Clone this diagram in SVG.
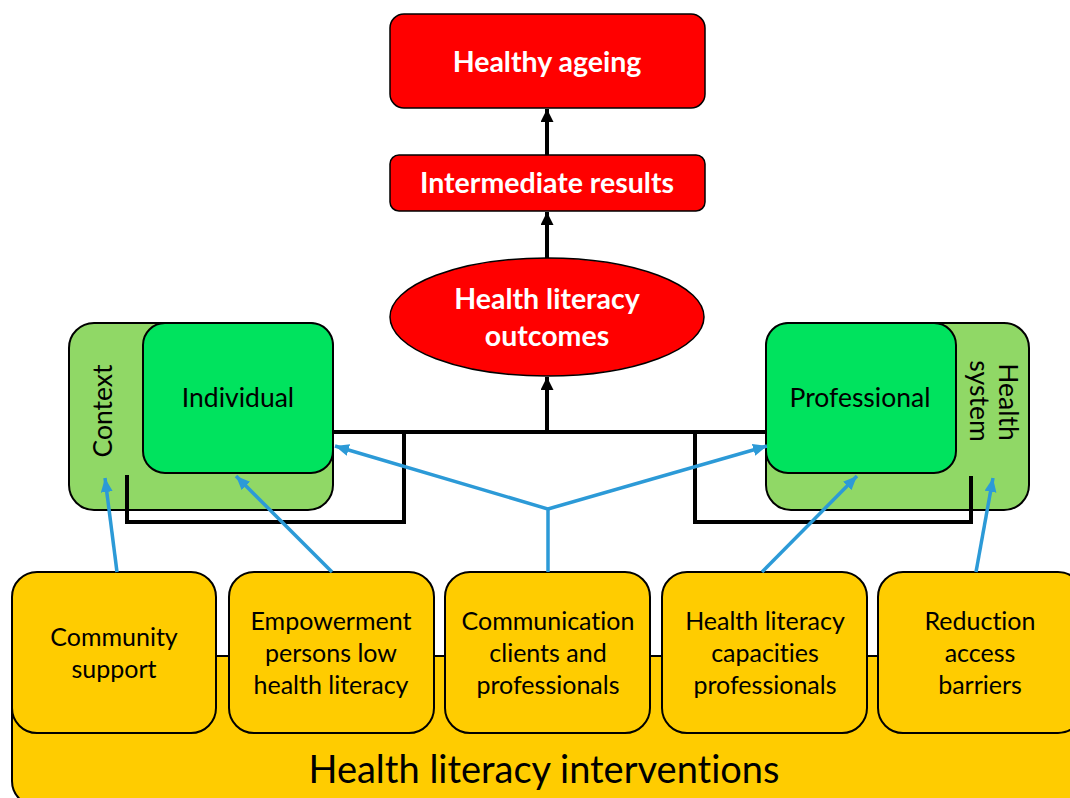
<svg xmlns="http://www.w3.org/2000/svg" width="1070" height="798" viewBox="0 0 1070 798">
<style>
.red{fill:#FF0000;stroke:#000;stroke-width:1.5}
.lg{fill:#90D866;stroke:#000;stroke-width:2}
.bg{fill:#00E35E;stroke:#000;stroke-width:2}
.yel{fill:#FFCC00;stroke:#000;stroke-width:2}
.wt{font-family:Lato,"Liberation Sans",sans-serif;font-weight:bold;fill:#fff;text-anchor:middle;font-variant-ligatures:none}
.bt{font-family:Lato,"Liberation Sans",sans-serif;fill:#000;text-anchor:middle;font-variant-ligatures:none}
.blk{fill:none;stroke:#000;stroke-width:4}
.blu{fill:none;stroke:#2C9AD7;stroke-width:3.5}
</style>
<defs>
<marker id="ab" markerUnits="userSpaceOnUse" markerWidth="16" markerHeight="16" refX="13" refY="6.5" orient="auto"><path d="M0,0 L13,6.5 L0,13 z" fill="#000"/></marker>
<marker id="au" markerUnits="userSpaceOnUse" markerWidth="16" markerHeight="16" refX="14" refY="6" orient="auto"><path d="M0,0 L14,6 L0,12 z" fill="#2C9AD7"/></marker>
</defs>
<rect width="1070" height="798" fill="#fff"/>
<g id="interventions">
<rect class="yel" x="12" y="656" width="1080" height="150" rx="25"/>
<text class="bt" x="544" y="783" font-size="38">Health literacy interventions</text>
</g>
<g id="community-support">
<rect class="yel" x="12" y="572" width="204" height="161" rx="25"/>
<text class="bt" x="114" y="646" font-size="25">Community</text>
<text class="bt" x="114" y="678" font-size="25">support</text>
</g>
<g id="empowerment">
<rect class="yel" x="229" y="572" width="205" height="161" rx="25"/>
<text class="bt" x="331" y="630" font-size="25">Empowerment</text>
<text class="bt" x="331" y="662" font-size="25">persons low</text>
<text class="bt" x="331" y="694" font-size="25">health literacy</text>
</g>
<g id="communication">
<rect class="yel" x="445" y="572" width="205" height="161" rx="25"/>
<text class="bt" x="548" y="630" font-size="25">Communication</text>
<text class="bt" x="548" y="662" font-size="25">clients and</text>
<text class="bt" x="548" y="694" font-size="25">professionals</text>
</g>
<g id="capacities">
<rect class="yel" x="662" y="572" width="205" height="161" rx="25"/>
<text class="bt" x="765" y="630" font-size="25">Health literacy</text>
<text class="bt" x="765" y="662" font-size="25">capacities</text>
<text class="bt" x="765" y="694" font-size="25">professionals</text>
</g>
<g id="reduction">
<rect class="yel" x="878" y="572" width="205" height="161" rx="25"/>
<text class="bt" x="980" y="630" font-size="25">Reduction</text>
<text class="bt" x="980" y="662" font-size="25">access</text>
<text class="bt" x="980" y="694" font-size="25">barriers</text>
</g>
<g id="context">
<rect class="lg" x="69" y="323" width="264" height="187" rx="25"/>
<text class="bt" font-size="26.5" transform="translate(112,411) rotate(-90)">Context</text>
</g>
<g id="individual">
<rect class="bg" x="143" y="323" width="190" height="150" rx="22"/>
<text class="bt" x="238" y="407" font-size="26.5">Individual</text>
</g>
<g id="health-system">
<rect class="lg" x="766" y="323" width="263" height="187" rx="25"/>
<text class="bt" font-size="26.5" transform="translate(999,402) rotate(90)">Health</text>
<text class="bt" font-size="26.5" transform="translate(970,401) rotate(90)">system</text>
</g>
<g id="professional">
<rect class="bg" x="766" y="323" width="190" height="150" rx="22"/>
<text class="bt" x="860" y="407" font-size="26.5">Professional</text>
</g>
<g id="outcomes">
<ellipse class="red" cx="547" cy="317" rx="157" ry="59"/>
<text class="wt" x="547" y="309" font-size="28.5">Health literacy</text>
<text class="wt" x="547" y="346" font-size="28.5">outcomes</text>
</g>
<g id="intermediate">
<rect class="red" x="390" y="155" width="315" height="56" rx="9"/>
<text class="wt" x="547" y="193" font-size="28.5">Intermediate results</text>
</g>
<g id="healthy-ageing">
<rect class="red" x="390" y="14" width="315" height="94" rx="14"/>
<text class="wt" x="547" y="72" font-size="28.5">Healthy ageing</text>
</g>
<g id="connectors">
<path class="blk" d="M333,432 H766 M404,432 V522 H127 V475 M695,432 V522 H971 V476"/>
<path class="blk" d="M547,432 V377" marker-end="url(#ab)"/>
<path class="blk" d="M547,258 V212" marker-end="url(#ab)"/>
<path class="blk" d="M547,155 V109" marker-end="url(#ab)"/>
<path class="blu" d="M117,572 L105,478" marker-end="url(#au)"/>
<path class="blu" d="M332,572 L236,476" marker-end="url(#au)"/>
<path class="blu" d="M548,572 V509 L335,446" marker-end="url(#au)"/>
<path class="blu" d="M548,509 L767,446" marker-end="url(#au)"/>
<path class="blu" d="M762,572 L857,476" marker-end="url(#au)"/>
<path class="blu" d="M976,572 L993,478" marker-end="url(#au)"/>
</g>
</svg>
